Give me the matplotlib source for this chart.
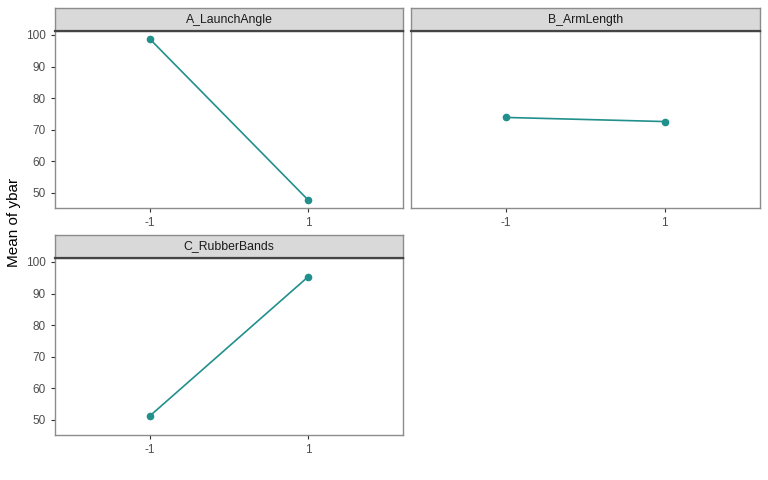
import matplotlib.pyplot as plt

plt.rcParams['font.family'] = ['Liberation Sans', 'DejaVu Sans']

# main effects: mean of ybar at each factor level
factors = ["A_LaunchAngle", "B_ArmLength", "C_RubberBands"]
levels = [-1, 1]
means = {
    "A_LaunchAngle": [98.7, 47.8],
    "B_ArmLength": [73.9, 72.6],
    "C_RubberBands": [51.3, 95.3],
}
yticks = [50, 60, 70, 80, 90, 100]

W, H = 768, 480
fig = plt.figure(figsize=(W / 100, H / 100), dpi=100)

# panel boxes in pixels: (left, right, strip_top, strip_bottom, panel_bottom)
boxes = [(55, 403, 8, 31, 208), (411, 760, 8, 31, 208), (55, 403, 235, 258, 435)]

line_col = "#21908C"
txt_col = "#4D4D4D"
border_col = "#8C8C8C"

for name, (l, r, st, sb, pb) in zip(factors, boxes):
    ax = fig.add_axes([l / W, 1 - pb / H, (r - l) / W, (pb - sb) / H])
    ax.plot(levels, means[name], color=line_col, lw=1.2, marker="o", ms=4.5, zorder=3)
    ax.set_xlim(-2.2, 2.2)
    ax.set_ylim(45.25, 101.25)
    ax.set_xticks(levels)
    ax.set_xticklabels([str(v) for v in levels])
    ax.set_yticks(yticks)
    ax.tick_params(colors="#333333", labelcolor=txt_col, labelsize=8.5, length=3, width=0.8)
    for s in ax.spines.values():
        s.set_color(border_col)
        s.set_linewidth(1.0)
    if name == "B_ArmLength":
        ax.set_yticklabels([])
        ax.tick_params(axis="y", length=0)

    sax = fig.add_axes([l / W, 1 - sb / H, (r - l) / W, (sb - st) / H])
    sax.set_facecolor("#D9D9D9")
    sax.set_xticks([])
    sax.set_yticks([])
    for s in sax.spines.values():
        s.set_color(border_col)
        s.set_linewidth(1.0)
    sax.spines["bottom"].set_color("#444444")
    sax.spines["bottom"].set_linewidth(1.6)
    sax.text(0.5, 0.5, name, ha="center", va="center", fontsize=8.8, color="#1A1A1A",
             transform=sax.transAxes)

fig.text(14 / W, 1 - 222 / H, "Mean of ybar", rotation=90, ha="center", va="center",
         fontsize=11, color="black")

fig.savefig("out.png", dpi=100)
